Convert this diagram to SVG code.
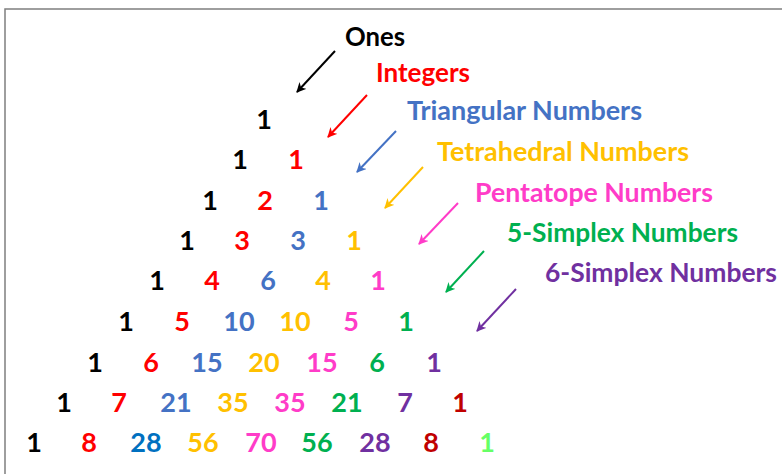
<svg xmlns="http://www.w3.org/2000/svg" width="782" height="474" viewBox="0 0 782 474">
<style>
text{font-family:Lato,"Open Sans","Liberation Sans",sans-serif;font-weight:700;font-size:27px}
.n{text-anchor:middle}
.k{fill:#000}.r{fill:#FF0000}.b{fill:#4472C4}.o{fill:#FFC000}.p{fill:#FF3CC8}.g{fill:#00B050}.v{fill:#7030A0}.d{fill:#C00000}.lg{fill:#66FF66}.db{fill:#0070C0}
.a{stroke-width:2;fill:none}
</style>
<defs>
<marker id="ak" viewBox="0 0 10 10" refX="9" refY="5" markerWidth="5" markerHeight="5" orient="auto"><path d="M0,0 L10,5 L0,10 L3,5 Z" fill="#000"/></marker>
<marker id="ar" viewBox="0 0 10 10" refX="9" refY="5" markerWidth="5" markerHeight="5" orient="auto"><path d="M0,0 L10,5 L0,10 L3,5 Z" fill="#FF0000"/></marker>
<marker id="ab" viewBox="0 0 10 10" refX="9" refY="5" markerWidth="5" markerHeight="5" orient="auto"><path d="M0,0 L10,5 L0,10 L3,5 Z" fill="#4472C4"/></marker>
<marker id="ao" viewBox="0 0 10 10" refX="9" refY="5" markerWidth="5" markerHeight="5" orient="auto"><path d="M0,0 L10,5 L0,10 L3,5 Z" fill="#FFC000"/></marker>
<marker id="ap" viewBox="0 0 10 10" refX="9" refY="5" markerWidth="5" markerHeight="5" orient="auto"><path d="M0,0 L10,5 L0,10 L3,5 Z" fill="#FF3CC8"/></marker>
<marker id="ag" viewBox="0 0 10 10" refX="9" refY="5" markerWidth="5" markerHeight="5" orient="auto"><path d="M0,0 L10,5 L0,10 L3,5 Z" fill="#00B050"/></marker>
<marker id="av" viewBox="0 0 10 10" refX="9" refY="5" markerWidth="5" markerHeight="5" orient="auto"><path d="M0,0 L10,5 L0,10 L3,5 Z" fill="#7030A0"/></marker>
</defs>
<rect width="782" height="474" fill="#fff"/>
<path d="M5,474 V9 H782" fill="none" stroke="#7f7f7f" stroke-width="1.5"/>

<g id="labels">
<g id="lbl-ones"><text x="345" y="46" class="k" textLength="60" lengthAdjust="spacingAndGlyphs">Ones</text></g>
<g id="lbl-integers"><text x="376" y="82" class="r" textLength="94" lengthAdjust="spacingAndGlyphs">Integers</text></g>
<g id="lbl-triangular"><text x="407" y="120" class="b" textLength="235" lengthAdjust="spacingAndGlyphs">Triangular Numbers</text></g>
<g id="lbl-tetrahedral"><text x="437" y="161" class="o" textLength="252" lengthAdjust="spacingAndGlyphs">Tetrahedral Numbers</text></g>
<g id="lbl-pentatope"><text x="475" y="202" class="p" textLength="238" lengthAdjust="spacingAndGlyphs">Pentatope Numbers</text></g>
<g id="lbl-5simplex"><text x="507" y="242" class="g" textLength="231" lengthAdjust="spacingAndGlyphs">5-Simplex Numbers</text></g>
<g id="lbl-6simplex"><text x="545" y="282" class="v" textLength="232" lengthAdjust="spacingAndGlyphs">6-Simplex Numbers</text></g>
</g>

<g id="connectors">
<line class="a" x1="335" y1="51" x2="297" y2="92" stroke="#000" marker-end="url(#ak)"/>
<line class="a" x1="367" y1="95" x2="328" y2="137" stroke="#FF0000" marker-end="url(#ar)"/>
<line class="a" x1="396" y1="131" x2="357" y2="172" stroke="#4472C4" marker-end="url(#ab)"/>
<line class="a" x1="423" y1="167" x2="385" y2="208" stroke="#FFC000" marker-end="url(#ao)"/>
<line class="a" x1="458" y1="203" x2="419" y2="244" stroke="#FF3CC8" marker-end="url(#ap)"/>
<line class="a" x1="484" y1="251" x2="446" y2="292" stroke="#00B050" marker-end="url(#ag)"/>
<line class="a" x1="516" y1="289" x2="477" y2="331" stroke="#7030A0" marker-end="url(#av)"/>
</g>

<g id="row0"><text class="n k" x="264" y="129">1</text></g>
<g id="row1"><text class="n k" x="240" y="169">1</text><text class="n r" x="296" y="169">1</text></g>
<g id="row2"><text class="n k" x="210" y="210">1</text><text class="n r" x="265" y="210">2</text><text class="n b" x="321" y="210">1</text></g>
<g id="row3"><text class="n k" x="187" y="250">1</text><text class="n r" x="242" y="250">3</text><text class="n b" x="298" y="250">3</text><text class="n o" x="354" y="250">1</text></g>
<g id="row4"><text class="n k" x="157" y="290">1</text><text class="n r" x="212" y="290">4</text><text class="n b" x="268" y="290">6</text><text class="n o" x="323" y="290">4</text><text class="n p" x="378" y="290">1</text></g>
<g id="row5"><text class="n k" x="126" y="331">1</text><text class="n r" x="182" y="331">5</text><text class="n b" x="239" y="331">10</text><text class="n o" x="295" y="331">10</text><text class="n p" x="351" y="331">5</text><text class="n g" x="406" y="331">1</text></g>
<g id="row6"><text class="n k" x="95" y="372">1</text><text class="n r" x="151" y="372">6</text><text class="n b" x="207" y="372">15</text><text class="n o" x="264" y="372">20</text><text class="n p" x="322" y="372">15</text><text class="n g" x="377" y="372">6</text><text class="n v" x="434" y="372">1</text></g>
<g id="row7"><text class="n k" x="64" y="412">1</text><text class="n r" x="119" y="412">7</text><text class="n b" x="176" y="412">21</text><text class="n o" x="233" y="412">35</text><text class="n p" x="290" y="412">35</text><text class="n g" x="347" y="412">21</text><text class="n v" x="405" y="412">7</text><text class="n d" x="460" y="412">1</text></g>
<g id="row8"><text class="n k" x="34" y="452">1</text><text class="n r" x="89" y="452">8</text><text class="n db" x="146" y="452">28</text><text class="n o" x="203" y="452">56</text><text class="n p" x="261" y="452">70</text><text class="n g" x="317" y="452">56</text><text class="n v" x="375" y="452">28</text><text class="n d" x="431" y="452">8</text><text class="n lg" x="487" y="452">1</text></g>
</svg>
